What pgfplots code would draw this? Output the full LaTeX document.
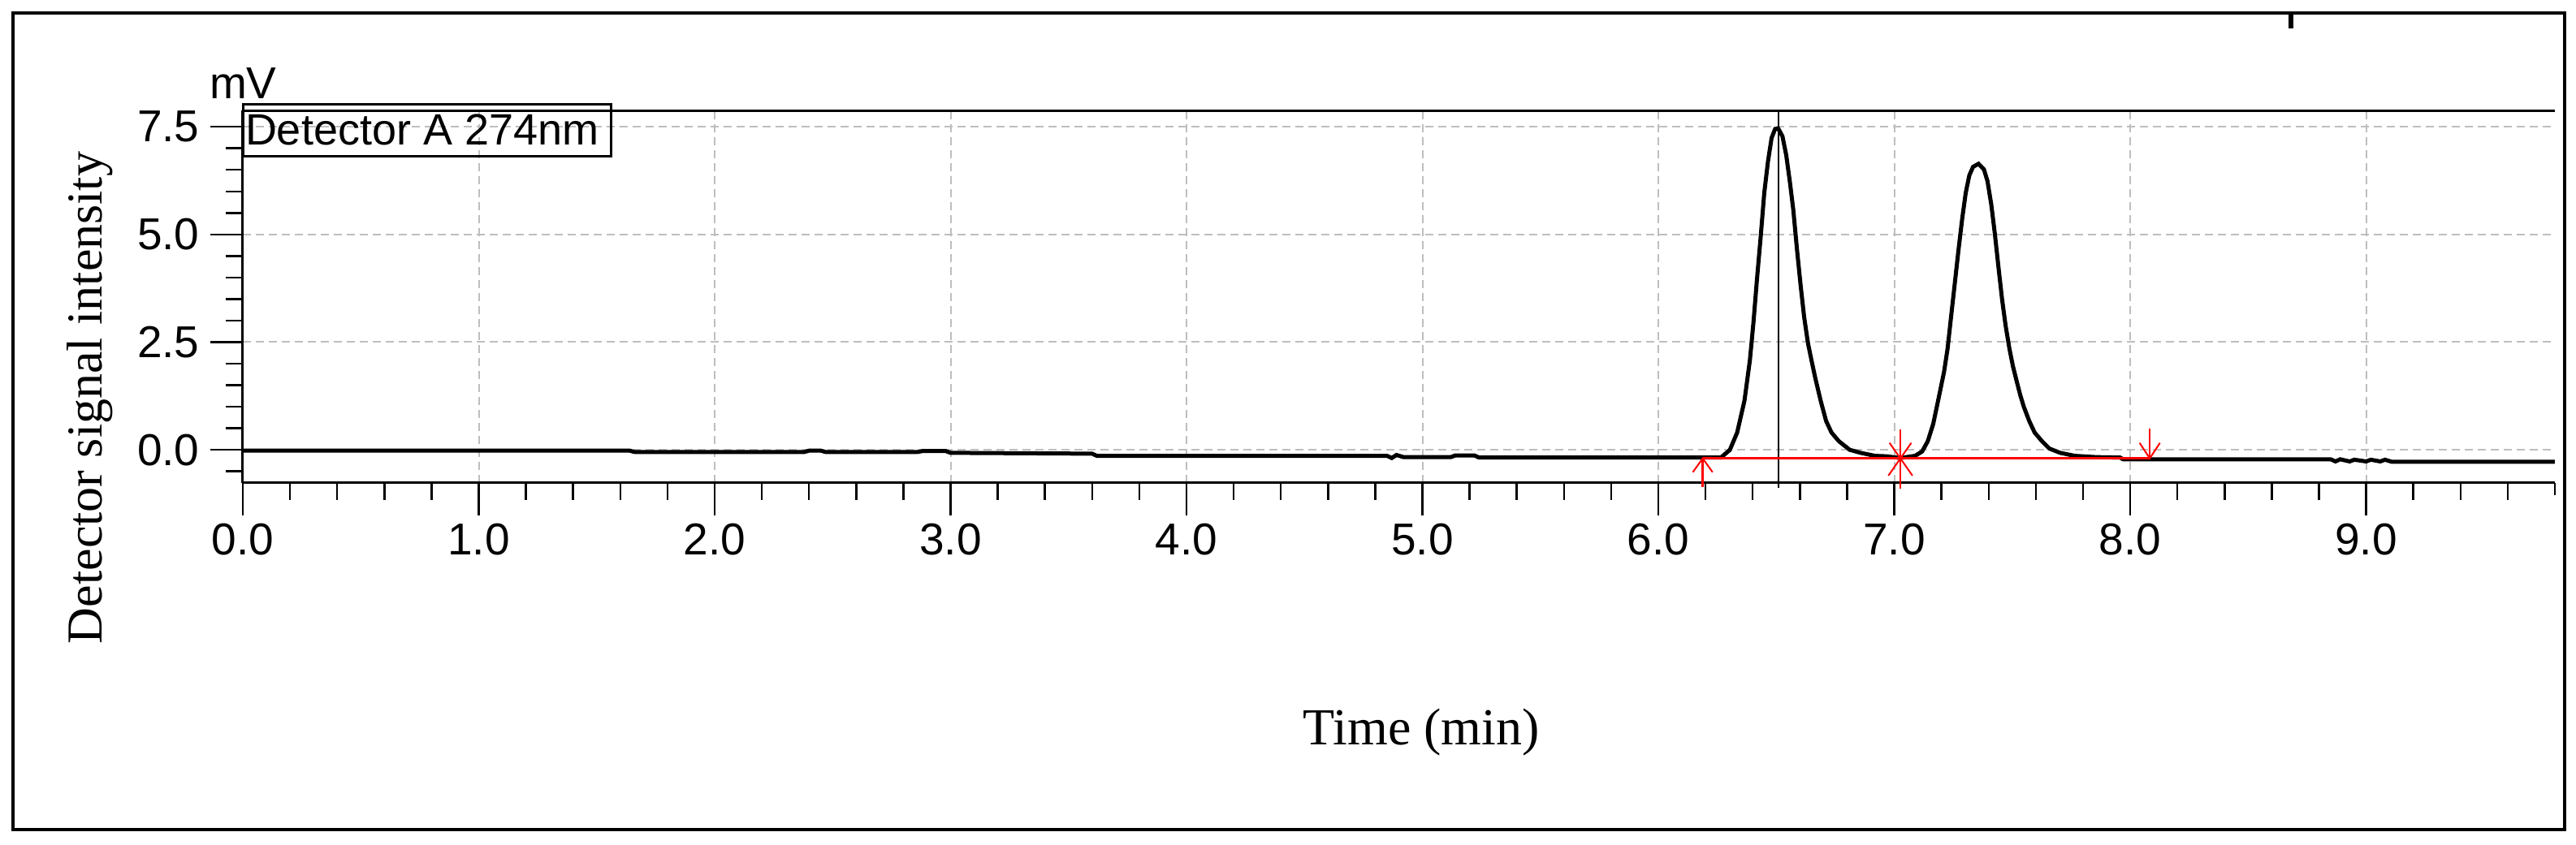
\documentclass[border=0pt]{standalone}
\usepackage{fontspec}
\setmainfont{Liberation Serif}
\newfontfamily\labsans{Liberation Sans}
\usepackage{pgfplots}
\pgfplotsset{compat=1.18}
\definecolor{gridgray}{RGB}{190,190,190}
\begin{document}
\begin{tikzpicture}
\useasboundingbox (-59.8pt,-89.2pt) rectangle (574.6pt,119pt);
\draw[line width=0.7pt] (-56.6pt,-85.4pt) rectangle (571.8pt,115.8pt);
\begin{axis}[
  at={(0,0)}, anchor=south west,
  scale only axis, width=569.4pt, height=91.8pt,
  xmin=0, xmax=9.8, ymin=-0.77, ymax=7.88,
  axis x line*=bottom, axis y line*=left,
  axis line style={line width=0.6pt},
  xtick={0,1,2,3,4,5,6,7,8,9}, ytick={0,2.5,5,7.5},
  minor xtick={0.2,0.4,0.6,0.8,1.2,1.4,1.6,1.8,2.2,2.4,2.6,2.8,3.2,3.4,3.6,3.8,4.2,4.4,4.6,4.8,5.2,5.4,5.6,5.8,6.2,6.4,6.6,6.8,7.2,7.4,7.6,7.8,8.2,8.4,8.6,8.8,9.2,9.4,9.6,9.8},
  minor ytick={-0.5,0.5,1,1.5,2,3,3.5,4,4.5,5.5,6,6.5,7},
  tick align=outside,
  major tick length=8pt, minor tick length=4.2pt,
  tick style={black, line width=0.5pt},
  minor x tick style={shorten <=1.2pt},
  grid=major,
  major grid style={gridgray, dash pattern=on 2pt off 1.2pt, line width=0.4pt},
  xticklabel style={font=\labsans\fontsize{11}{13}\selectfont, inner sep=0pt, yshift=-1.9pt},
  yticklabel style={font=\labsans\fontsize{11}{13}\selectfont, inner sep=0pt, xshift=-2.5pt},
  /pgf/number format/.cd, fixed, fixed zerofill, precision=1, assume math mode=true,
  /pgfplots/.cd,
  xlabel={Time (min)},
  xlabel style={font=\fontsize{12.8}{15}\selectfont, at={(axis description cs:0.5097,0)}, anchor=base, yshift=-64.4pt},
  ylabel={Detector signal intensity},
  ylabel style={font=\fontsize{12.4}{15}\selectfont, at={(axis description cs:-0.0611,0.2288)}, anchor=base},
  clip=false,
]
% chromatogram trace
\addplot[black, line width=1pt] coordinates {
(0,-0.02) (0.5,-0.02) (1.0,-0.02) (1.64,-0.02) (1.66,-0.05) (2.38,-0.05) (2.40,-0.02) (2.45,-0.02) (2.47,-0.05)
(2.86,-0.05) (2.88,-0.03) (2.98,-0.03) (3.0,-0.07) (3.60,-0.09) (3.62,-0.14) (4.85,-0.14) (4.87,-0.19) (4.89,-0.12)
(4.92,-0.17) (5.12,-0.17) (5.14,-0.13) (5.22,-0.13) (5.24,-0.18) (6.0,-0.18) (6.265,-0.18)
(6.303,-0.003) (6.334,0.40) (6.365,1.14) (6.388,2.08) (6.403,2.95) (6.418,3.96) (6.434,4.96) (6.449,5.97)
(6.465,6.71) (6.480,7.24) (6.495,7.45) (6.508,7.46) (6.526,7.28) (6.542,6.84) (6.557,6.24) (6.572,5.57)
(6.588,4.63) (6.603,3.82) (6.618,3.08) (6.634,2.48) (6.649,2.08) (6.665,1.67) (6.688,1.14) (6.711,0.67)
(6.734,0.40) (6.765,0.20) (6.811,0.00) (6.857,-0.07) (6.918,-0.14) (6.965,-0.15) (7.026,-0.19)
(7.088,-0.14) (7.118,-0.04) (7.142,0.20) (7.165,0.60) (7.188,1.20) (7.211,1.81) (7.226,2.35) (7.242,3.15)
(7.257,3.89) (7.272,4.63) (7.288,5.37) (7.303,5.97) (7.318,6.37) (7.334,6.57) (7.357,6.64) (7.380,6.51)
(7.395,6.24) (7.411,5.70) (7.426,5.03) (7.442,4.22) (7.457,3.49) (7.472,2.88) (7.488,2.35) (7.503,1.94)
(7.518,1.61) (7.534,1.27) (7.549,1.00) (7.572,0.67) (7.595,0.40) (7.626,0.20) (7.657,0.03) (7.703,-0.07)
(7.765,-0.14) (7.857,-0.17) (7.957,-0.18) (7.97,-0.22) (8.5,-0.22) (8.85,-0.22) (8.87,-0.27) (8.89,-0.22)
(8.93,-0.27) (8.95,-0.23) (9.0,-0.27) (9.02,-0.23) (9.06,-0.27) (9.08,-0.23) (9.11,-0.28) (9.8,-0.28)
};
% cursor line
\addplot[black, line width=0.4pt] coordinates {(6.508,7.88) (6.508,-0.88)};
% integration baseline and markers
\addplot[red, line width=0.6pt] coordinates {(6.188,-0.20) (8.083,-0.20)};
\addplot[red, line width=0.5pt] coordinates {(6.188,-0.86) (6.188,-0.20)};
\addplot[red, line width=0.4pt] coordinates {(6.146,-0.52) (6.188,-0.20) (6.230,-0.52)};
\addplot[red, line width=0.5pt] coordinates {(7.026,0.47) (7.026,-0.91)};
\addplot[red, line width=0.4pt] coordinates {(6.980,0.16) (7.026,-0.20) (7.072,0.16)};
\addplot[red, line width=0.4pt] coordinates {(6.975,-0.60) (7.026,-0.20) (7.077,-0.60)};
\addplot[red, line width=0.5pt] coordinates {(8.083,0.49) (8.083,-0.20)};
\addplot[red, line width=0.4pt] coordinates {(8.040,0.16) (8.083,-0.20) (8.126,0.16)};
\draw[line width=0.6pt] (rel axis cs:0,1) -- (rel axis cs:1,1);
\end{axis}
\node[anchor=base west, inner sep=0pt, font=\labsans\fontsize{11}{13}\selectfont] at (-8.4pt,94.6pt) {mV};
\draw[line width=0.6pt] (0pt,80.4pt) rectangle (90.6pt,93.2pt);
\node[anchor=base west, inner sep=0pt, font=\labsans\fontsize{10.8}{13}\selectfont] at (0.4pt,83.2pt) {Detector A 274nm};
\draw[line width=1.3pt] (504.4pt,115.8pt) -- (504.4pt,112pt);
\end{tikzpicture}
\end{document}
